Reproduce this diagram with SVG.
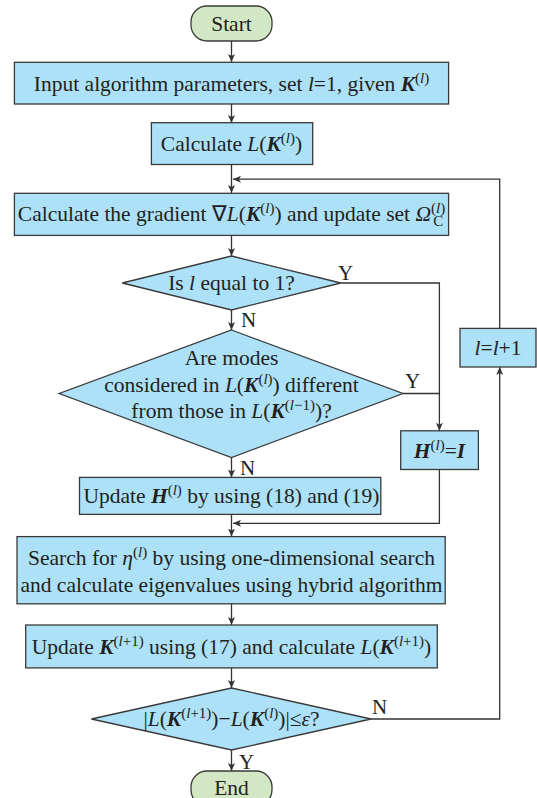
<svg xmlns="http://www.w3.org/2000/svg" width="537" height="798" viewBox="0 0 537 798">
<style>
text{font-family:"Liberation Serif","Times New Roman",serif;font-size:21.5px;fill:#231f20;text-anchor:middle}
.lbl{text-anchor:start;font-size:21px}
.i{font-style:italic}
.bi{font-style:italic;font-weight:bold}
.sp{font-size:15px}
.box{fill:#ace1f7;stroke:#3a3a3a;stroke-width:1.3}
.term{fill:#d2e8c5;stroke:#3a3a3a;stroke-width:1.3}
.con path,.con line{fill:none;stroke:#333;stroke-width:1.3}
</style>
<defs>
<marker id="ah" markerUnits="userSpaceOnUse" markerWidth="9" markerHeight="8" refX="8" refY="3.5" orient="auto">
<path d="M0,0 L8,3.5 L0,7 L2,3.5 z" fill="#333"/>
</marker>
</defs>
<g class="con">
<line x1="231.5" y1="41" x2="231.5" y2="62" marker-end="url(#ah)"/>
<line x1="231.5" y1="104" x2="231.5" y2="123" marker-end="url(#ah)"/>
<line x1="231.5" y1="164.5" x2="231.5" y2="193" marker-end="url(#ah)"/>
<path d="M499.7,328 V179.2 H233" marker-end="url(#ah)"/>
<line x1="231.5" y1="235.4" x2="231.5" y2="256" marker-end="url(#ah)"/>
<path d="M340.8,283 H439.4 V430.8" marker-end="url(#ah)"/>
<line x1="231.5" y1="310" x2="231.5" y2="330" marker-end="url(#ah)"/>
<path d="M403,393.5 H439.4"/>
<line x1="231.5" y1="457.5" x2="231.5" y2="477.4" marker-end="url(#ah)"/>
<path d="M439.4,469.5 V523.3 H233" marker-end="url(#ah)"/>
<line x1="231.5" y1="514.4" x2="231.5" y2="536.6" marker-end="url(#ah)"/>
<line x1="231.5" y1="603.8" x2="231.5" y2="625" marker-end="url(#ah)"/>
<line x1="231.5" y1="668" x2="231.5" y2="688" marker-end="url(#ah)"/>
<path d="M371,719 H499.7 V367" marker-end="url(#ah)"/>
<line x1="231.5" y1="750" x2="231.5" y2="771" marker-end="url(#ah)"/>
<text class="lbl" x="338" y="280">Y</text>
<text class="lbl" x="241" y="327">N</text>
<text class="lbl" x="405" y="388">Y</text>
<text class="lbl" x="240" y="475">N</text>
<text class="lbl" x="372" y="714">N</text>
<text class="lbl" x="239" y="769">Y</text>
</g>
<g id="start">
<rect class="term" x="191" y="6" width="81" height="35" rx="16"/>
<text x="231.5" y="30.5">Start</text>
</g>
<g id="input">
<rect class="box" x="14.4" y="62.3" width="434.2" height="41.7"/>
<text x="231.5" y="90.5">Input algorithm parameters, set <tspan class="i">l</tspan>=1, given <tspan class="bi">K</tspan><tspan class="sp" dy="-8">(<tspan class="i">l</tspan>)</tspan></text>
</g>
<g id="calcL">
<rect class="box" x="151.4" y="122.7" width="161.3" height="41.8"/>
<text x="231.5" y="151">Calculate <tspan class="i">L</tspan>(<tspan class="bi">K</tspan><tspan class="sp" dy="-8">(<tspan class="i">l</tspan>)</tspan><tspan dy="8">)</tspan></text>
</g>
<g id="gradient">
<rect class="box" x="14.4" y="193.3" width="434.2" height="42.1"/>
<text x="231.5" y="221">Calculate the gradient ∇<tspan class="i">L</tspan>(<tspan class="bi">K</tspan><tspan class="sp" dy="-8">(<tspan class="i">l</tspan>)</tspan><tspan dy="8">) and update set </tspan><tspan class="i">Ω</tspan><tspan class="sp" dy="-8">(<tspan class="i">l</tspan>)</tspan><tspan class="sp" dx="-12" dy="13">C</tspan></text>
</g>
<g id="isl1">
<polygon class="box" points="231.5,256 340.8,283 231.5,310 122.3,283"/>
<text x="231.5" y="290">Is <tspan class="i">l</tspan> equal to 1?</text>
</g>
<g id="modes">
<polygon class="box" points="231.5,330 403,393.5 231.5,457.5 59.2,393.5"/>
<text x="231.5" y="365">Are modes</text>
<text x="231.5" y="392">considered in <tspan class="i">L</tspan>(<tspan class="bi">K</tspan><tspan class="sp" dy="-8">(<tspan class="i">l</tspan>)</tspan><tspan dy="8">) different</tspan></text>
<text x="231.5" y="418">from those in <tspan class="i">L</tspan>(<tspan class="bi">K</tspan><tspan class="sp" dy="-8">(<tspan class="i">l</tspan>−1)</tspan><tspan dy="8">)?</tspan></text>
</g>
<g id="hident">
<rect class="box" x="400.7" y="430.8" width="77.7" height="38.7"/>
<text x="439.5" y="457.5"><tspan class="bi">H</tspan><tspan class="sp" dy="-8">(<tspan class="i">l</tspan>)</tspan><tspan dy="8">=</tspan><tspan class="bi">I</tspan></text>
</g>
<g id="lincr">
<rect class="box" x="460" y="328.4" width="76" height="38.6"/>
<text x="498" y="355"><tspan class="i">l</tspan>=<tspan class="i">l</tspan>+1</text>
</g>
<g id="updateH">
<rect class="box" x="79.5" y="477.4" width="301.3" height="37"/>
<text x="231.5" y="503">Update <tspan class="bi">H</tspan><tspan class="sp" dy="-8">(<tspan class="i">l</tspan>)</tspan><tspan dy="8"> by using (18) and (19)</tspan></text>
</g>
<g id="search">
<rect class="box" x="17" y="536.6" width="428.2" height="67.2"/>
<text x="231.5" y="565">Search for <tspan class="i">η</tspan><tspan class="sp" dy="-8">(<tspan class="i">l</tspan>)</tspan><tspan dy="8"> by using one-dimensional search</tspan></text>
<text x="231.5" y="592">and calculate eigenvalues using hybrid algorithm</text>
</g>
<g id="updateK">
<rect class="box" x="25.7" y="625" width="411.6" height="42.9"/>
<text x="231.5" y="653.5">Update <tspan class="bi">K</tspan><tspan class="sp" dy="-8">(<tspan class="i">l</tspan>+1)</tspan><tspan dy="8"> using (17) and calculate </tspan><tspan class="i">L</tspan>(<tspan class="bi">K</tspan><tspan class="sp" dy="-8">(<tspan class="i">l</tspan>+1)</tspan><tspan dy="8">)</tspan></text>
</g>
<g id="converge">
<polygon class="box" points="231.5,688 371,719 231.5,750 91.4,719"/>
<text x="231.5" y="726">|<tspan class="i">L</tspan>(<tspan class="bi">K</tspan><tspan class="sp" dy="-8">(<tspan class="i">l</tspan>+1)</tspan><tspan dy="8">)−</tspan><tspan class="i">L</tspan>(<tspan class="bi">K</tspan><tspan class="sp" dy="-8">(<tspan class="i">l</tspan>)</tspan><tspan dy="8">)|≤</tspan><tspan class="i">ε</tspan>?</text>
</g>
<g id="end">
<rect class="term" x="191" y="771" width="81" height="35" rx="16"/>
<text x="231.5" y="795">End</text>
</g>
</svg>
